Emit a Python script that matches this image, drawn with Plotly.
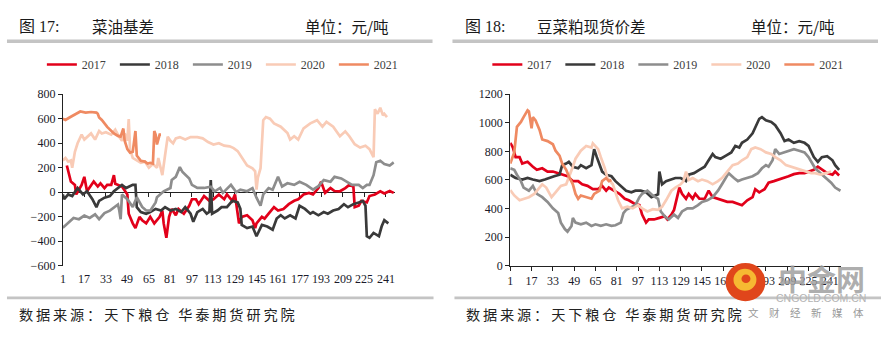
import plotly.graph_objects as go

# ---------------- data: 菜油基差 (left) ----------------
rs_d_2017 = [4,7,10,11,15,17,19,22,24,27,29,32,34,37,39,40,42,45,49,50,53,55,58,60,63,66,69,73,75,76,78,80,82,85,87,91,95,97,100,102,106,110,113,117,121,123,127,129,132,134,138,142,144,145,149,151,154,158,161,165,169,173,176,180,184,187,191,193,196,200,203,207,211,214,217,218,221,223,227,229,233,237,240,244,247]
rs_v_2017 = [218,87,60,-18,60,126,8,60,87,47,73,34,60,60,139,70,60,47,-18,-175,-254,-293,-201,-228,-254,-201,-254,-201,-149,-254,-372,-201,-136,-188,-136,-175,-110,-57,-57,-97,-31,-70,-57,-18,-57,-18,-70,-18,-254,-201,-188,-228,-293,-254,-201,-215,-175,-122,-149,-136,-97,-70,-57,-18,-5,-18,34,86,-5,34,10,8,34,60,47,-122,-110,-70,-83,-31,-18,8,-10,10,-5]

rs_d_2018 = [1,2,5,8,12,16,19,23,26,28,32,36,39,42,45,48,50,53,55,56,59,63,66,70,74,77,81,85,89,92,96,98,101,105,108,110,111,112,116,119,123,127,131,133,134,138,142,145,149,153,157,160,163,166,170,174,177,181,185,187,191,195,198,202,206,210,213,217,221,224,226,227,229,232,236,238,240,243]
rs_v_2018 = [-18,-57,-18,-31,34,-18,8,-57,-122,-70,-44,-31,8,34,60,34,47,60,60,-122,-162,-175,-162,-136,-149,-122,-149,-136,-162,-122,-175,-241,-162,-136,-175,-160,99,-175,-149,-122,-122,-70,-83,-136,-267,-293,-280,-359,-267,-280,-306,-214,-188,-214,-188,-214,-110,-136,-175,-162,-188,-162,-175,-149,-136,-97,-122,-97,-83,-70,-110,-359,-372,-332,-359,-280,-228,-254]

rs_d_2019 = [1,5,9,13,17,21,25,28,32,36,40,42,43,44,45,47,49,53,56,60,63,66,70,71,76,81,82,85,88,90,95,97,101,106,111,114,118,120,123,126,130,133,138,142,145,148,150,154,157,161,164,168,173,177,182,187,191,195,200,203,208,212,216,221,224,227,229,232,234,237,240,244,247]
rs_v_2019 = [-290,-250,-210,-220,-190,-210,-180,-220,-170,-150,-120,-100,-149,-220,-18,-40,-57,-120,-41,-120,-149,-150,-83,-41,8,35,100,126,205,165,113,60,35,35,45,8,35,-5,30,60,0,21,8,34,-44,-110,-18,34,21,126,47,73,60,86,60,21,50,99,86,126,113,86,60,60,34,60,60,139,244,257,231,218,244]

rs_d_2020 = [1,3,5,7,8,10,12,15,17,20,22,25,28,30,33,37,40,43,45,47,49,50,51,53,56,59,62,65,68,71,72,74,75,77,79,81,83,85,88,92,96,101,105,109,113,117,121,125,128,131,134,138,142,144,145,146,148,150,152,155,158,163,168,170,173,176,180,185,190,194,197,202,207,211,214,218,222,226,229,232,233,235,237,239,240,242]
rs_v_2020 = [260,280,250,260,200,330,400,470,430,460,480,430,500,480,490,470,510,450,420,480,420,598,350,280,260,240,250,200,230,200,280,170,140,300,454,420,400,440,450,430,450,450,440,410,390,400,380,375,360,336,283,218,195,170,21,120,196,588,614,600,562,535,483,430,457,430,522,562,588,535,575,535,457,497,457,392,365,379,352,287,677,640,690,627,640,614]

rs_d_2021 = [1,3,6,9,14,18,22,26,27,28,30,34,37,39,42,44,46,47,49,51,53,55,56,59,62,64,66,68,69,70,71,72,73,74]
rs_v_2021 = [600,590,610,630,659,650,655,650,640,611,590,533,500,480,460,454,520,420,352,323,330,500,300,257,250,234,240,234,500,470,390,440,470,470]

# ---------------- data: 豆菜粕现货价差 (right) ----------------
ms_d_2017 = [1,3,5,8,10,14,18,21,25,29,33,37,40,44,48,52,55,59,63,67,70,73,75,79,83,87,90,94,98,100,103,105,109,113,117,119,122,124,126,128,130,133,135,138,140,143,147,150,153,157,160,164,168,172,175,179,183,185,188,192,195,199,203,207,210,214,218,222,225,229,232,235,239,243,245,248]
ms_v_2017 = [860,827,760,760,715,727,693,671,682,659,659,648,637,626,592,592,570,559,536,536,559,525,547,525,503,469,458,436,424,358,302,324,324,335,346,324,358,391,469,547,503,469,503,469,503,469,469,525,480,469,458,447,447,436,424,458,480,536,514,536,581,592,603,614,626,641,648,648,659,671,693,671,648,637,659,632]

ms_d_2018 = [1,5,10,14,18,23,27,30,34,38,40,43,45,48,52,54,58,62,64,66,68,70,73,77,80,84,88,92,95,99,103,107,109,112,113,115,118,122,125,129,133,135,139,143,147,150,153,155,159,163,167,170,173,175,179,183,185,188,190,193,197,200,204,207,210,214,218,222,225,229,232,235,239,243,245,248]
ms_v_2018 = [637,614,603,614,603,592,603,614,626,637,704,715,727,693,682,704,682,704,816,760,715,659,637,626,592,559,525,514,525,525,514,480,490,500,659,570,592,603,614,614,592,637,648,671,693,738,782,760,749,771,793,838,827,860,883,927,972,1028,1040,1017,1006,983,927,872,883,860,872,860,838,760,727,760,767,738,704,671]

ms_d_2019 = [1,4,6,9,11,15,18,21,25,29,33,37,39,42,44,47,48,50,54,58,62,65,69,73,77,80,84,86,88,92,95,98,100,104,108,112,114,117,120,124,127,130,134,138,142,145,149,153,157,160,163,165,169,172,175,179,183,187,190,193,195,198,200,203,207,210,214,218,222,225,228,230,234,238,242,245,249]
ms_v_2019 = [682,671,637,592,547,525,559,503,480,447,402,369,302,257,239,279,335,302,290,302,279,290,279,290,279,283,302,369,391,413,424,480,503,525,492,469,380,346,324,358,335,380,402,402,424,447,458,480,525,570,614,648,614,592,603,614,626,648,682,704,693,738,816,782,793,805,816,805,793,760,715,682,648,614,581,547,525]

ms_d_2020 = [1,4,8,11,15,19,23,25,28,32,35,39,43,45,48,50,54,58,62,63,67,69,72,74,78,82,85,89,93,97,100,104,108,112,115,118,122,125,129,131,133,135,138,142,145,149,153,157,160,164,168,172,175,179,182,185,189,193,197,200,204,208,212,215,219,223,227,230,234,238,242]
ms_v_2020 = [530,492,458,469,480,503,547,570,547,480,514,559,570,614,693,749,805,838,827,856,816,760,682,614,570,458,402,413,402,424,402,380,396,391,413,458,525,547,570,590,659,600,614,592,603,592,570,592,614,659,704,715,738,760,816,827,816,793,782,760,738,704,693,682,671,659,648,648,637,648,659]

ms_d_2021 = [1,4,6,9,11,14,15,17,18,20,23,25,29,33,35,38,40,43,45,48,50,52,54,58,62,64,68,70,73,75,77]
ms_v_2021 = [715,793,972,1006,1040,1088,1080,961,1040,1017,950,883,872,850,805,771,715,671,626,570,503,469,492,480,469,503,525,592,614,592,600]

years = ["2017", "2018", "2019", "2020", "2021"]
colors = ["#e2001a", "#3a3a3a", "#8d8d8d", "#f9cbb6", "#ef8a62"]
x_ticks = [1, 17, 33, 49, 65, 81, 97, 113, 129, 145, 161, 177, 193, 209, 225, 241]
left_title_no = "图 17:"
left_title = "菜油基差"
right_title_no = "图 18:"
right_title = "豆菜粕现货价差"
unit_text = "单位：元/吨"
source_text = "数据来源：天下粮仓 华泰期货研究院"

# ---------------- figure ----------------
W, H = 881, 337
def px(x):
    return x / W
def py(y):
    return 1 - y / H

fig = go.Figure()
left = [(rs_d_2017, rs_v_2017), (rs_d_2018, rs_v_2018), (rs_d_2019, rs_v_2019),
        (rs_d_2020, rs_v_2020), (rs_d_2021, rs_v_2021)]
right = [(ms_d_2017, ms_v_2017), (ms_d_2018, ms_v_2018), (ms_d_2019, ms_v_2019),
         (ms_d_2020, ms_v_2020), (ms_d_2021, ms_v_2021)]

for (d, v), name, c in zip(left, years, colors):
    fig.add_trace(go.Scatter(x=d, y=v, mode="lines", name=name,
                             line=dict(color=c, width=2.7), xaxis="x", yaxis="y",
                             legend="legend"))
for (d, v), name, c in zip(right, years, colors):
    fig.add_trace(go.Scatter(x=d, y=v, mode="lines", name=name,
                             line=dict(color=c, width=2.7), xaxis="x2", yaxis="y2",
                             legend="legend2"))

tick_font = dict(family="Liberation Serif", size=12, color="#1a1a2a")
y_dom = [py(270), py(91)]
left_range = [-600, 800]
zero_pos = y_dom[0] + (0 - left_range[0]) / (left_range[1] - left_range[0]) * (y_dom[1] - y_dom[0])

fig.update_layout(
    width=W, height=H, margin=dict(l=0, r=0, t=0, b=0),
    paper_bgcolor="white", plot_bgcolor="white",
    showlegend=True,
    xaxis=dict(domain=[px(60), px(393)], range=[1, 247.7], anchor="free", position=zero_pos,
               showgrid=False, zeroline=False, showline=True, linecolor="#222", linewidth=1,
               ticks="outside", ticklen=4, tickcolor="#222", tickvals=x_ticks,
               showticklabels=False, layer="below traces"),
    yaxis=dict(domain=y_dom, range=left_range, anchor="x", showgrid=False, zeroline=False,
               showline=True, linecolor="#222", linewidth=1, ticks="outside", ticklen=4,
               tickcolor="#222", tickvals=[-600, -400, -200, 0, 200, 400, 600, 800],
               tickfont=tick_font),
    xaxis2=dict(domain=[px(509), px(841)], range=[1, 249.5], anchor="y2",
                showgrid=False, zeroline=False, showline=True, linecolor="#222", linewidth=1,
                ticks="outside", ticklen=4, tickcolor="#222", tickvals=x_ticks,
                tickfont=tick_font),
    yaxis2=dict(domain=y_dom, range=[0, 1200], anchor="x2", showgrid=False, zeroline=False,
                showline=True, linecolor="#222", linewidth=1, ticks="outside", ticklen=4,
                tickcolor="#222", tickvals=[0, 200, 400, 600, 800, 1000, 1200],
                tickfont=tick_font),
    legend=dict(orientation="h", x=px(39), y=py(60), xanchor="left", yanchor="middle",
                font=dict(family="Liberation Serif", size=12, color="#404040"),
                entrywidth=28, entrywidthmode="pixels", bgcolor="rgba(0,0,0,0)",
                itemclick=False),
    legend2=dict(orientation="h", x=px(486), y=py(60), xanchor="left", yanchor="middle",
                 font=dict(family="Liberation Serif", size=12, color="#404040"),
                 entrywidth=28, entrywidthmode="pixels", bgcolor="rgba(0,0,0,0)",
                 itemclick=False),
)

annotations = []
# left x tick labels (axis line sits on zero, labels at bottom)
for t in x_ticks:
    annotations.append(dict(x=t, y=py(284), xref="x", yref="paper", text=str(t),
                            showarrow=False, xanchor="center", yanchor="middle",
                            font=tick_font))

title_font = dict(family="Liberation Serif, Noto Sans CJK SC", size=16, color="#1a1a1a")
cjk_font = dict(family="Noto Sans CJK SC", size=15.5, color="#1a1a1a")
src_font = dict(family="Noto Sans CJK SC", size=14.2, color="#222")
src_spaced = "\u2009".join(source_text)
annotations += [
    dict(x=px(14), y=py(20), text=left_title_no, font=title_font),
    dict(x=px(87), y=py(20), text=left_title, font=cjk_font),
    dict(x=px(301), y=py(20), text=unit_text, font=cjk_font),
    dict(x=px(462), y=py(20), text=right_title_no, font=title_font),
    dict(x=px(534), y=py(20), text=right_title, font=cjk_font),
    dict(x=px(749), y=py(20), text=unit_text, font=cjk_font),
    dict(x=px(14), y=py(320), text=src_spaced, font=src_font),
    dict(x=px(463), y=py(320), text=src_spaced, font=src_font),
]
for a in annotations[len(x_ticks):]:
    a.update(xref="paper", yref="paper", showarrow=False, xanchor="left", yanchor="middle")

# watermark
annotations += [
    dict(x=px(821), y=py(283), xref="paper", yref="paper", text="<b>中金网</b>", showarrow=False,
         xanchor="center", yanchor="middle",
         font=dict(family="Noto Sans CJK SC", size=29, color="rgba(160,160,160,0.85)")),
    dict(x=px(821), y=py(304), xref="paper", yref="paper", text="CNGOLD.COM.CN", showarrow=False,
         xanchor="center", yanchor="middle",
         font=dict(family="Liberation Sans", size=10.5, color="#b4b4b4")),
    dict(x=px(806), y=py(319), xref="paper", yref="paper", text="文　财　经　新　媒　体",
         showarrow=False, xanchor="center", yanchor="middle",
         font=dict(family="Noto Sans CJK SC", size=10.5, color="#9a9a9a")),
]
fig.update_layout(annotations=annotations)

shapes = [
    dict(type="rect", x0=px(4), x1=px(431), y0=py(37.5), y1=py(34), fillcolor="#c4c4c4", line_width=0),
    dict(type="rect", x0=px(451), x1=px(878), y0=py(37.5), y1=py(34), fillcolor="#c4c4c4", line_width=0),
    dict(type="rect", x0=px(4), x1=px(432), y0=py(305), y1=py(302), fillcolor="#c4c4c4", line_width=0),
    dict(type="rect", x0=px(453), x1=px(881), y0=py(305), y1=py(302), fillcolor="#c4c4c4", line_width=0),
    dict(type="circle", x0=px(725), x1=px(765), y0=py(307), y1=py(267), fillcolor="#e0461b",
         line_width=0, layer="above"),
    dict(type="circle", x0=px(733), x1=px(756), y0=py(296), y1=py(273), fillcolor="#f6b932",
         line_width=0, layer="above"),
    dict(type="circle", x0=px(741), x1=px(750), y0=py(288), y1=py(279), fillcolor="#e0461b",
         line_width=0, layer="above"),
]
for s in shapes:
    s.update(xref="paper", yref="paper")
fig.update_layout(shapes=shapes)

fig.write_html("out.html")
